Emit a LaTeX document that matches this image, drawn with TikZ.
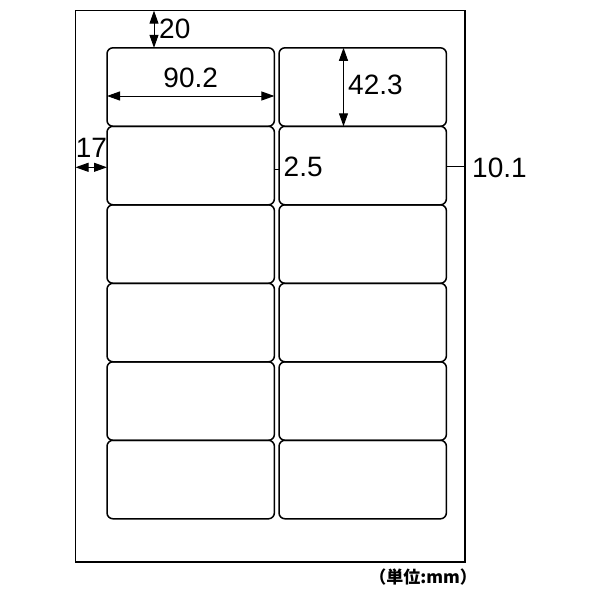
\documentclass[tikz,border=0pt]{standalone}
\usepackage{fontspec}
\setmainfont{Liberation Sans}
\newfontfamily\cjk{Noto Sans CJK JP}
\usetikzlibrary{arrows.meta}

\tikzset{
  sheetbox/.style={draw,line width=1.3pt,inner sep=0pt,outer sep=0pt,
    minimum width=389.5pt,minimum height=551.3pt},
  labelbox/.style={draw,line width=1.5pt,rounded corners=6pt,inner sep=0pt,outer sep=0pt,
    minimum width=167.4pt,minimum height=78.5pt},
  dim/.style={line width=1pt,{Triangle[length=13pt,width=9pt]}-{Triangle[length=13pt,width=9pt]}},
  tick/.style={line width=1pt},
  num/.style={inner sep=0pt,font=\fontsize{28}{30}\selectfont}
}

\begin{document}
\begin{tikzpicture}[x=1pt,y=-1pt]
\useasboundingbox (0,0) rectangle (600,600);

% sheet
\node[sheetbox] (sheet) at (270.25,286.35) {};

% labels, 2 columns x 6 rows
\foreach\r in {0,...,5}{
  \foreach\c/\x in {0/107,1/279}{
    \node[labelbox] (l-\r-\c) at (\x+83.7,47.8+39.25+78.5*\r) {};
  }
}

% dimension lines
\coordinate (d20) at (154,0);
\draw[dim] (sheet.north -| d20) -- (l-0-0.north -| d20);
\node[num,anchor=west] (t20) at (159,29) {20};

\coordinate (dw) at (0,96);
\draw[dim] (l-0-0.west |- dw) -- (l-0-0.east |- dw);
\node[num] (tw) at (190.7,78) {90.2};

\coordinate (dh) at (343.5,0);
\draw[dim] (l-0-1.north -| dh) -- (l-0-1.south -| dh);
\node[num,anchor=west] (th) at (348,85) {42.3};

\coordinate (dl) at (0,167.3);
\draw[dim] (sheet.west |- dl) -- (l-1-0.west |- dl);
\node[num] (tl) at (91.5,148) {17};

\coordinate (dg) at (0,169.3);
\draw[tick] (l-1-0.east |- dg) -- (l-1-1.west |- dg);
\node[num,anchor=west] (tg) at (283.5,167) {2.5};

\coordinate (dr) at (0,166.7);
\draw[tick] (l-1-1.east |- dr) -- (sheet.east |- dr);
\node[num,anchor=west] (tr) at (472,168) {10.1};

% unit
\node[inner sep=0pt,anchor=east,font=\cjk\bfseries\fontsize{17}{19}\selectfont] (unit) at (477,577) {（単位:mm）};
\end{tikzpicture}
\end{document}
